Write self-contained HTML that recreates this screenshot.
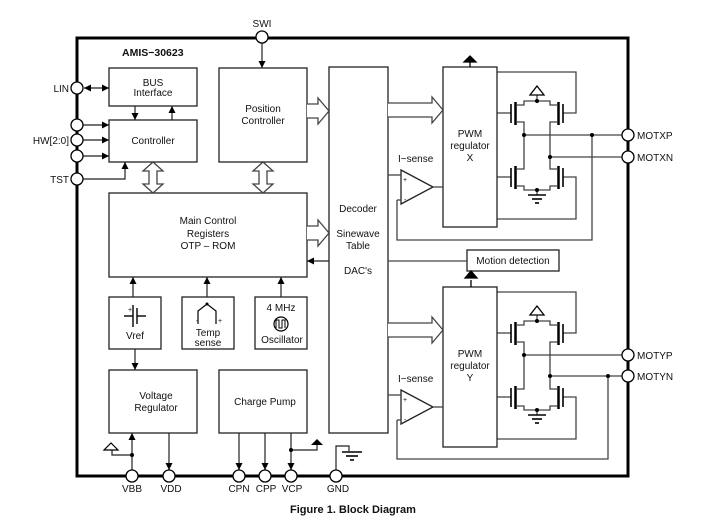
<!DOCTYPE html>
<html><head><meta charset="utf-8"><style>
html,body{margin:0;padding:0;background:#fff;}
svg{display:block;font-family:"Liberation Sans",Arial,sans-serif;}
text{font-size:10px;fill:#111;}
</style></head><body>
<svg width="705" height="531" viewBox="0 0 705 531" xmlns="http://www.w3.org/2000/svg">
<defs>
<marker id="a" viewBox="0 0 10 10" refX="10" refY="5" markerWidth="7" markerHeight="7" orient="auto-start-reverse" markerUnits="userSpaceOnUse"><path d="M0,0 L10,5 L0,10 z" fill="#000"/></marker>
<g id="bridge" stroke="#444" stroke-width="1.3" fill="none">
  <polyline points="497,5 576,5 576,46 563,46"/>
  <polyline points="497,152 576,152 576,110 563,110"/>
  <line x1="497" y1="46" x2="511" y2="46"/>
  <line x1="497" y1="110" x2="511" y2="110"/>
  <line x1="511" y1="37" x2="511" y2="56" stroke="#000" stroke-width="1.6"/>
  <line x1="515.5" y1="35" x2="515.5" y2="58" stroke="#000" stroke-width="2.5"/>
  <line x1="563" y1="37" x2="563" y2="56" stroke="#000" stroke-width="1.6"/>
  <line x1="558.5" y1="35" x2="558.5" y2="58" stroke="#000" stroke-width="2.5"/>
  <line x1="511" y1="101" x2="511" y2="120" stroke="#000" stroke-width="1.6"/>
  <line x1="515.5" y1="99" x2="515.5" y2="122" stroke="#000" stroke-width="2.5"/>
  <line x1="563" y1="101" x2="563" y2="120" stroke="#000" stroke-width="1.6"/>
  <line x1="558.5" y1="99" x2="558.5" y2="122" stroke="#000" stroke-width="2.5"/>
  <polyline points="517,38 524,38 524,34 550,34 550,38 557,38"/>
  <polyline points="517,55 524,55 524,102 517,102"/>
  <polyline points="557,55 550,55 550,102 557,102"/>
  <polyline points="517,119 524,119 524,123 550,123 550,119 557,119"/>
  <line x1="537" y1="34" x2="537" y2="28"/>
  <line x1="537" y1="123" x2="537" y2="128"/>
  <polygon points="537,19 530,28 544,28" stroke="#000" fill="#fff"/>
  <line x1="528" y1="128" x2="546" y2="128" stroke="#000" stroke-width="1.6"/>
  <line x1="532" y1="132" x2="542" y2="132" stroke="#000" stroke-width="1.6"/>
  <line x1="535" y1="136" x2="539" y2="136" stroke="#000" stroke-width="1.6"/>
  <circle cx="537" cy="34" r="2" fill="#000" stroke="none"/>
  <circle cx="537" cy="123" r="2" fill="#000" stroke="none"/>
  <rect x="443" y="0" width="54" height="160" stroke="#222" stroke-width="1.3"/>
  <polygon points="401,103 433,120 401,137" stroke="#222"/>
  <line x1="433" y1="120" x2="443" y2="120"/>
  <line x1="388" y1="108" x2="401" y2="108"/>
  <line x1="397" y1="133" x2="401" y2="133"/>
  <polyline points="388,36 432,36 432,30 443,43 432,56 432,50 388,50" fill="#fff"/>
</g>
</defs>

<rect x="77" y="38" width="551" height="438" fill="none" stroke="#000" stroke-width="3"/>

<text x="122" y="56" font-weight="bold" style="font-size:10.5px">AMIS−30623</text>

<g stroke="#222" stroke-width="1.3" fill="none">
  <rect x="109" y="68" width="88" height="38"/>
  <rect x="109" y="120" width="88" height="42"/>
  <rect x="219" y="68" width="88" height="94"/>
  <rect x="329" y="67" width="59" height="366"/>
  <rect x="109" y="193" width="198" height="84"/>
  <rect x="109" y="297" width="52" height="52"/>
  <rect x="182" y="297" width="52" height="52"/>
  <rect x="255" y="297" width="52" height="52"/>
  <rect x="109" y="370" width="88" height="63"/>
  <rect x="219" y="370" width="88" height="63"/>
  <rect x="467" y="250" width="92" height="21"/>
</g>

<use href="#bridge" transform="translate(0,67)"/>
<use href="#bridge" transform="translate(0,287)"/>

<g stroke="#444" stroke-width="1.3" fill="none">
  <line x1="524" y1="135" x2="622" y2="135"/>
  <line x1="550" y1="157" x2="622" y2="157"/>
  <polyline points="592,135 592,240 397,240 397,200"/>
  <line x1="524" y1="355" x2="622" y2="355"/>
  <line x1="550" y1="376" x2="622" y2="376"/>
  <polyline points="608,376 608,459 397,459 397,420"/>
  <line x1="388" y1="261" x2="467" y2="261"/>
</g>
<g fill="#000">
  <circle cx="524" cy="135" r="2"/><circle cx="550" cy="157" r="2"/><circle cx="592" cy="135" r="2"/>
  <circle cx="524" cy="355" r="2"/><circle cx="550" cy="376" r="2"/><circle cx="608" cy="376" r="2"/>
</g>
<g stroke="#000" stroke-width="1.3">
  <line x1="470" y1="67" x2="470" y2="60"/>
  <polygon points="464,62 470,56 476,62" fill="#000"/>
  <line x1="471" y1="287" x2="471" y2="280"/>
  <polygon points="465,278 471,271 477,278" fill="#000"/>
</g>

<g stroke="#444" stroke-width="1.3" fill="#fff">
  <polyline points="307,104 318,104 318,98 329,111 318,124 318,118 307,118"/>
  <polyline points="307,226 318,226 318,220 329,233 318,246 318,240 307,240"/>
  <polygon points="153,162 143,171 149,171 149,184 143,184 153,193 163,184 157,184 157,171 163,171"/>
  <polygon points="263,162 253,171 259,171 259,184 253,184 263,193 273,184 267,184 267,171 273,171"/>
</g>

<g stroke="#222" stroke-width="1.2" fill="none">
  <line x1="262" y1="43" x2="262" y2="68" marker-end="url(#a)"/>
  <line x1="84" y1="88" x2="109" y2="88" marker-start="url(#a)" marker-end="url(#a)"/>
  <line x1="135" y1="106" x2="135" y2="120" marker-end="url(#a)"/>
  <line x1="172" y1="120" x2="172" y2="106" marker-end="url(#a)"/>
  <line x1="83" y1="125" x2="109" y2="125" marker-end="url(#a)"/>
  <line x1="83" y1="140" x2="109" y2="140" marker-end="url(#a)"/>
  <line x1="83" y1="156" x2="109" y2="156" marker-end="url(#a)"/>
  <polyline points="83,179 125,179 125,162" marker-end="url(#a)"/>
  <line x1="329" y1="261" x2="307" y2="261" marker-end="url(#a)"/>
  <line x1="133" y1="297" x2="133" y2="277" marker-end="url(#a)"/>
  <line x1="207" y1="297" x2="207" y2="277" marker-end="url(#a)"/>
  <line x1="281" y1="297" x2="281" y2="277" marker-end="url(#a)"/>
  <line x1="135" y1="349" x2="135" y2="370" marker-end="url(#a)"/>
  <line x1="132" y1="470" x2="132" y2="433" marker-end="url(#a)"/>
  <polyline points="132,455 112,455 112,450"/>
  <line x1="169" y1="433" x2="169" y2="470" marker-end="url(#a)"/>
  <line x1="239" y1="433" x2="239" y2="470" marker-end="url(#a)"/>
  <line x1="265" y1="433" x2="265" y2="470" marker-end="url(#a)"/>
  <line x1="291" y1="433" x2="291" y2="470" marker-end="url(#a)"/>
  <polyline points="291,450 317,450 317,445"/>
  <polyline points="336,470 336,446 349,446 349,451"/>
</g>
<polygon points="104,450 111,443 118,450" fill="#fff" stroke="#000" stroke-width="1.2"/>
<polygon points="311,445 317,439 323,445" fill="#000"/>
<circle cx="132" cy="455" r="2" fill="#000"/><circle cx="291" cy="450" r="2" fill="#000"/>
<g stroke="#000" stroke-width="1.6">
  <line x1="342" y1="452" x2="362" y2="452"/><line x1="346" y1="456" x2="358" y2="456"/><line x1="350" y1="460" x2="354" y2="460"/>
</g>

<g stroke="#000" stroke-width="1.4">
  <line x1="124" y1="316" x2="133" y2="316"/><line x1="133" y1="305" x2="133" y2="327"/>
  <line x1="137" y1="308" x2="137" y2="324"/><line x1="137" y1="316" x2="146" y2="316"/>
</g>
<text x="128" y="312" style="font-size:7px">+</text>
<polyline points="198,324 198,311 207,304 216,311 216,324" fill="none" stroke="#000" stroke-width="1.2"/>
<circle cx="207" cy="304" r="1.5"/>
<text x="196" y="323" style="font-size:7px">-</text><text x="218" y="323" style="font-size:7px">+</text>
<circle cx="281" cy="324" r="7" fill="none" stroke="#000" stroke-width="1.2"/>
<polyline points="276,328 276,320 279,320 279,328 282,328 282,320 285,320 285,328" fill="none" stroke="#000" stroke-width="1"/>

<g fill="#fff" stroke="#000" stroke-width="1.3">
  <circle cx="262" cy="37" r="6"/>
  <circle cx="77" cy="88" r="6"/><circle cx="77" cy="125" r="6"/><circle cx="77" cy="140" r="6"/><circle cx="77" cy="156" r="6"/><circle cx="77" cy="179" r="6"/>
  <circle cx="628" cy="135" r="6"/><circle cx="628" cy="157" r="6"/><circle cx="628" cy="355" r="6"/><circle cx="628" cy="376" r="6"/>
  <circle cx="132" cy="476" r="6"/><circle cx="169" cy="476" r="6"/><circle cx="239" cy="476" r="6"/><circle cx="265" cy="476" r="6"/><circle cx="291" cy="476" r="6"/><circle cx="336" cy="476" r="6"/>
</g>

<g text-anchor="middle">
  <text x="262" y="27">SWI</text>
  <text x="153" y="86">BUS</text><text x="153" y="96">Interface</text>
  <text x="153" y="144">Controller</text>
  <text x="263" y="112">Position</text><text x="263" y="124">Controller</text>
  <text x="358" y="212">Decoder</text>
  <text x="358" y="237">Sinewave</text><text x="358" y="249">Table</text>
  <text x="358" y="274">DAC's</text>
  <text x="208" y="224">Main Control</text><text x="208" y="237">Registers</text><text x="208" y="249">OTP – ROM</text>
  <text x="135" y="339">Vref</text>
  <text x="208" y="336">Temp</text><text x="208" y="346">sense</text>
  <text x="281" y="311">4 MHz</text><text x="282" y="343">Oscillator</text>
  <text x="156" y="399">Voltage</text><text x="156" y="411">Regulator</text>
  <text x="265" y="405">Charge Pump</text>
  <text x="513" y="264">Motion detection</text>
  <text x="470" y="137">PWM</text><text x="470" y="149">regulator</text><text x="470" y="161">X</text>
  <text x="470" y="357">PWM</text><text x="470" y="369">regulator</text><text x="470" y="381">Y</text>
  <text x="132" y="492">VBB</text><text x="171" y="492">VDD</text><text x="239" y="492">CPN</text><text x="266" y="492">CPP</text><text x="292" y="492">VCP</text><text x="338" y="492">GND</text>
  <text x="353" y="513" font-weight="bold" style="font-size:11px">Figure 1. Block Diagram</text>
</g>
<text x="398" y="162">I−sense</text>
<text x="398" y="382">I−sense</text>
<text x="403" y="182" style="font-size:7px">+</text><text x="404" y="202" style="font-size:7px">-</text>
<text x="403" y="402" style="font-size:7px">+</text><text x="404" y="422" style="font-size:7px">-</text>
<g text-anchor="end">
  <text x="69" y="92">LIN</text><text x="69" y="144">HW[2:0]</text><text x="69" y="183">TST</text>
</g>
<text x="637" y="139">MOTXP</text><text x="637" y="161">MOTXN</text>
<text x="637" y="359">MOTYP</text><text x="637" y="380">MOTYN</text>
</svg>
</body></html>
